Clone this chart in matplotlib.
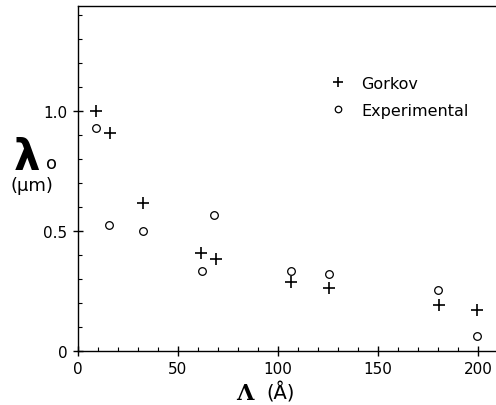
import matplotlib.pyplot as plt

# Gorkov prediction vs experiment, lambda_0 (um) against Lambda (A)
gorkov_x = [9, 16, 32.5, 61.5, 69, 106.5, 125.5, 180.5, 199.5]
gorkov_y = [1.0, 0.91, 0.617, 0.41, 0.383, 0.288, 0.263, 0.19, 0.17]

exp_x = [9, 15.5, 32.5, 62, 68, 106.5, 125.5, 180, 199.5]
exp_y = [0.93, 0.525, 0.50, 0.333, 0.567, 0.333, 0.32, 0.254, 0.063]

xticks = [0, 50, 100, 150, 200]
yticks = [0, 0.5, 1.0]
yticklabels = ['0', '0.5', '1.0']

fig = plt.figure(figsize=(4.96, 4.06), dpi=100)
ax = fig.add_axes([0.157, 0.133, 0.843, 0.85])

ax.plot(gorkov_x, gorkov_y, 'k+', ms=9, mew=1.2, label='Gorkov')
ax.plot(exp_x, exp_y, 'ko', ms=5.5, mfc='none', mew=0.9, label='Experimental')

ax.set_xlim(0, 209)
ax.set_ylim(0, 1.44)
ax.set_xticks(xticks)
ax.set_yticks(yticks)
ax.set_yticklabels(yticklabels)
ax.set_xticks(range(0, 210, 10), minor=True)
ax.set_yticks([i / 10 for i in range(0, 15)], minor=True)
ax.tick_params(which='major', direction='inout', length=7, width=1, labelsize=11, pad=4)
ax.tick_params(which='minor', direction='in', length=3, width=0.8)
ax.spines['right'].set_visible(False)
for s in ['left', 'bottom', 'top']:
    ax.spines[s].set_linewidth(1)

leg = ax.legend(loc='center left', bbox_to_anchor=(0.602, 0.736), frameon=False,
                fontsize=11.5, handletextpad=1.0, handlelength=1.0, labelspacing=0.75,
                borderaxespad=0, borderpad=0, markerscale=0.85)

fig.text(0.028, 0.61, '\u03bb', fontsize=30, fontweight='bold', ha='left', va='center')
fig.text(0.092, 0.595, 'o', fontsize=13, ha='left', va='center')
fig.text(0.022, 0.542, '(\u03bcm)', fontsize=13, ha='left', va='center')

fig.text(0.476, 0.002, '\u039b', fontsize=16, fontweight='bold', family='DejaVu Serif',
         ha='left', va='bottom')
fig.text(0.538, 0.033, '(\u00c5)', fontsize=14, ha='left', va='center')

plt.savefig('out.png', dpi=100)
